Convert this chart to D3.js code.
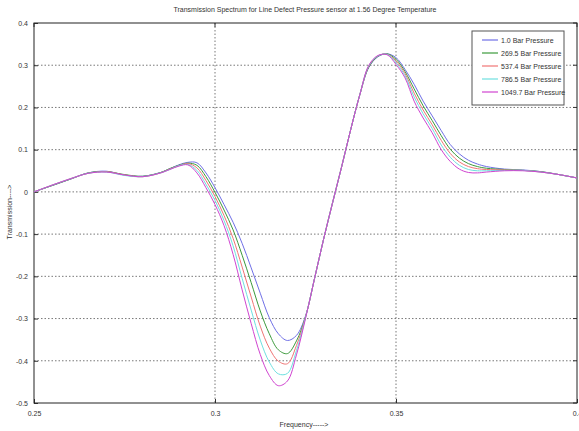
<!DOCTYPE html>
<html>
<head>
<meta charset="utf-8">
<script src="https://cdn.jsdelivr.net/npm/d3@7"></script>
<style>
  html, body { margin: 0; padding: 0; background: #ffffff; }
  svg { display: block; }
  text { font-family: "Liberation Sans Narrow", "Liberation Sans", Arial, sans-serif; fill: #333; }
</style>
</head>
<body>
<svg id="chart" width="579" height="431"></svg>
<script>
const titleText = "Transmission Spectrum for Line Defect Pressure sensor at 1.56 Degree Temperature";
const xLabel = "Frequency----->";
const yLabel = "Transmission---->";

const frequency = [0.25, 0.255, 0.26, 0.265, 0.27, 0.275, 0.28, 0.285, 0.2875, 0.29, 0.2925, 0.295, 0.2975, 0.30, 0.3025, 0.305, 0.3075, 0.31, 0.3125, 0.315, 0.3175, 0.32, 0.3225, 0.325, 0.3275, 0.33, 0.3325, 0.335, 0.3375, 0.34, 0.3425, 0.345, 0.3475, 0.35, 0.3525, 0.355, 0.3575, 0.36, 0.3625, 0.365, 0.3675, 0.37, 0.3725, 0.375, 0.38, 0.385, 0.39, 0.395, 0.40];

const seriesNames = ["1.0 Bar Pressure", "269.5 Bar Pressure", "537.4 Bar Pressure", "786.5 Bar Pressure", "1049.7 Bar Pressure"];
const seriesColors = ["#6f6fe6", "#3c9a3c", "#f07474", "#6ee0e0", "#d044d0"];

const p1 = [0, 0.015, 0.030, 0.045, 0.049, 0.040, 0.037, 0.046, 0.055, 0.064, 0.070, 0.069, 0.045, 0.010, -0.030, -0.072, -0.122, -0.180, -0.240, -0.298, -0.336, -0.352, -0.340, -0.294, -0.205, -0.112, -0.025, 0.060, 0.148, 0.230, 0.295, 0.320, 0.327, 0.318, 0.290, 0.255, 0.215, 0.180, 0.145, 0.112, 0.090, 0.075, 0.066, 0.060, 0.054, 0.052, 0.048, 0.041, 0.033];
const p2 = [0, 0.015, 0.030, 0.045, 0.048, 0.041, 0.037, 0.046, 0.055, 0.063, 0.068, 0.063, 0.036, -0.001, -0.043, -0.090, -0.150, -0.215, -0.282, -0.336, -0.374, -0.383, -0.353, -0.296, -0.205, -0.112, -0.025, 0.060, 0.148, 0.230, 0.296, 0.321, 0.327, 0.314, 0.285, 0.244, 0.204, 0.169, 0.133, 0.101, 0.080, 0.067, 0.060, 0.056, 0.053, 0.051, 0.048, 0.041, 0.033];
const p3 = [0, 0.016, 0.031, 0.044, 0.048, 0.040, 0.036, 0.045, 0.054, 0.062, 0.067, 0.057, 0.027, -0.011, -0.056, -0.110, -0.178, -0.249, -0.318, -0.370, -0.401, -0.407, -0.364, -0.297, -0.205, -0.112, -0.025, 0.060, 0.148, 0.230, 0.298, 0.322, 0.326, 0.310, 0.280, 0.234, 0.194, 0.159, 0.122, 0.091, 0.071, 0.060, 0.055, 0.053, 0.052, 0.051, 0.047, 0.041, 0.033];
const p4 = [0, 0.016, 0.031, 0.044, 0.047, 0.039, 0.036, 0.045, 0.053, 0.062, 0.065, 0.051, 0.018, -0.020, -0.068, -0.128, -0.205, -0.280, -0.351, -0.403, -0.431, -0.430, -0.376, -0.298, -0.205, -0.112, -0.025, 0.060, 0.148, 0.230, 0.299, 0.322, 0.326, 0.306, 0.275, 0.225, 0.185, 0.150, 0.111, 0.082, 0.063, 0.053, 0.050, 0.050, 0.051, 0.051, 0.047, 0.041, 0.033];
const p5 = [0, 0.016, 0.031, 0.044, 0.047, 0.040, 0.036, 0.045, 0.053, 0.061, 0.064, 0.045, 0.010, -0.030, -0.080, -0.148, -0.232, -0.312, -0.385, -0.435, -0.459, -0.448, -0.386, -0.300, -0.205, -0.112, -0.025, 0.060, 0.148, 0.230, 0.300, 0.323, 0.325, 0.302, 0.270, 0.215, 0.175, 0.140, 0.100, 0.072, 0.054, 0.046, 0.045, 0.047, 0.050, 0.050, 0.047, 0.041, 0.033];
const seriesValues = [p1, p2, p3, p4, p5];

const xTicks = [0.25, 0.3, 0.35, 0.4];
const xTickLabels = ["0.25", "0.3", "0.35", "0.4"];
const yTicks = [0.4, 0.3, 0.2, 0.1, 0, -0.1, -0.2, -0.3, -0.4, -0.5];
const yTickLabels = ["0.4", "0.3", "0.2", "0.1", "0", "-0.1", "-0.2", "-0.3", "-0.4", "-0.5"];

const svg = d3.select("#chart");
const margin = { left: 34, right: 2, top: 23, bottom: 28 };
const W = 579, H = 431;
const x = d3.scaleLinear().domain([0.25, 0.4]).range([margin.left, W - margin.right]);
const y = d3.scaleLinear().domain([-0.5, 0.4]).range([H - margin.bottom, margin.top]);

// grid
const grid = svg.append("g");
grid.selectAll("line.vg").data(xTicks.slice(1, -1)).enter().append("line")
  .attr("x1", d => x(d)).attr("x2", d => x(d))
  .attr("y1", y(0.4)).attr("y2", y(-0.5))
  .attr("stroke", "#555").attr("stroke-width", 0.8).attr("stroke-dasharray", "1.5,2");
grid.selectAll("line.hg").data(yTicks.slice(1, -1)).enter().append("line")
  .attr("x1", x(0.25)).attr("x2", x(0.4))
  .attr("y1", d => y(d)).attr("y2", d => y(d))
  .attr("stroke", "#555").attr("stroke-width", 0.8).attr("stroke-dasharray", "1.5,2");

// axes with inward ticks
const xAxis = d3.axisBottom(x).tickValues(xTicks).tickFormat((d, i) => xTickLabels[i]).tickSizeInner(-4).tickSizeOuter(0).tickPadding(8);
const yAxis = d3.axisLeft(y).tickValues(yTicks).tickFormat((d, i) => yTickLabels[i]).tickSizeInner(-4).tickSizeOuter(0).tickPadding(6);
const gx = svg.append("g").attr("transform", `translate(0,${y(-0.5)})`).call(xAxis);
const gy = svg.append("g").attr("transform", `translate(${x(0.25)},0)`).call(yAxis);
[gx, gy].forEach(g => {
  g.select(".domain").remove();
  g.selectAll(".tick line").attr("stroke", "#333");
  g.selectAll(".tick text").attr("font-size", 7).attr("fill", "#444")
    .style("font-family", '"Liberation Sans Narrow", "Liberation Sans", Arial, sans-serif');
});
// top / right ticks
svg.append("g").selectAll("line").data(xTicks).enter().append("line")
  .attr("x1", d => x(d)).attr("x2", d => x(d)).attr("y1", y(0.4)).attr("y2", y(0.4) + 4).attr("stroke", "#333");
svg.append("g").selectAll("line").data(yTicks).enter().append("line")
  .attr("x1", x(0.4)).attr("x2", x(0.4) - 4).attr("y1", d => y(d)).attr("y2", d => y(d)).attr("stroke", "#333");

// frame
svg.append("rect").attr("x", x(0.25)).attr("y", y(0.4))
  .attr("width", x(0.4) - x(0.25)).attr("height", y(-0.5) - y(0.4))
  .attr("fill", "none").attr("stroke", "#222").attr("stroke-width", 1);

// lines
const line = d3.line().x(d => x(d[0])).y(d => y(d[1])).curve(d3.curveCatmullRom.alpha(0.5));
seriesValues.forEach((vals, i) => {
  svg.append("path")
    .datum(frequency.map((f, k) => [f, vals[k]]))
    .attr("d", line)
    .attr("fill", "none")
    .attr("stroke", seriesColors[i])
    .attr("stroke-width", 1);
});

// title & labels
svg.append("text").attr("x", 305).attr("y", 12).attr("text-anchor", "middle")
  .attr("font-size", 7).attr("fill", "#333").text(titleText);
svg.append("text").attr("x", 304).attr("y", 427).attr("text-anchor", "middle")
  .attr("font-size", 7).attr("fill", "#333").text(xLabel);
svg.append("text").attr("transform", "translate(12,212) rotate(-90)").attr("text-anchor", "middle")
  .attr("font-size", 7).attr("fill", "#333").text(yLabel);

// legend
const lg = svg.append("g");
lg.append("rect").attr("x", 472).attr("y", 31).attr("width", 92).attr("height", 74)
  .attr("fill", "#fff").attr("stroke", "#555").attr("stroke-width", 1);
seriesNames.forEach((name, i) => {
  const yy = 40 + i * 13;
  lg.append("line").attr("x1", 482).attr("x2", 498).attr("y1", yy).attr("y2", yy)
    .attr("stroke", seriesColors[i]).attr("stroke-width", 1.2);
  lg.append("text").attr("x", 501).attr("y", yy + 2.5).attr("font-size", 7).attr("fill", "#333").text(name);
});
</script>
</body>
</html>
